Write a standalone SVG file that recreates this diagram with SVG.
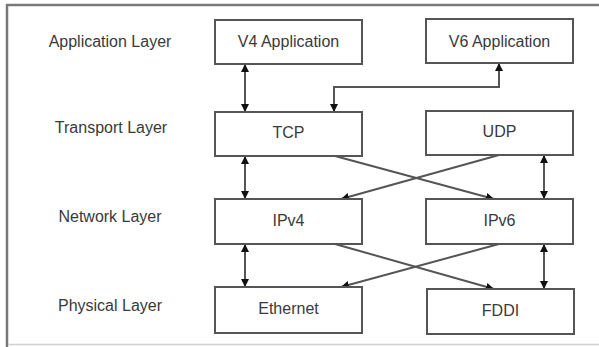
<svg xmlns="http://www.w3.org/2000/svg" width="599" height="347" viewBox="0 0 599 347">
<defs>
<marker id="ah" viewBox="0 0 10 10" refX="10" refY="5" markerWidth="8" markerHeight="8" markerUnits="userSpaceOnUse" orient="auto-start-reverse">
<path d="M0,0 L10,5 L0,10 z" fill="#111"/>
</marker>
<style>
.box{fill:#fff;stroke:#555;stroke-width:2}
.t{font-family:"Liberation Sans",Arial,sans-serif;font-size:16px;fill:#3a3a3a;text-anchor:middle}
.c{fill:none;stroke:#555;stroke-width:2}
</style>
</defs>
<rect x="0" y="0" width="599" height="347" fill="#fff"/>
<g id="frame">
<line x1="6" y1="5" x2="599" y2="5" stroke="#7a7a7a" stroke-width="2.5"/>
<line x1="7" y1="4" x2="7" y2="347" stroke="#7a7a7a" stroke-width="2.5"/>
<line x1="8" y1="344.5" x2="599" y2="344.5" stroke="#d0d0d0" stroke-width="1.5"/>
</g>
<g id="labels">
<text class="t" x="110" y="47">Application Layer</text>
<text class="t" x="111" y="133">Transport Layer</text>
<text class="t" x="110" y="222">Network Layer</text>
<text class="t" x="110" y="311">Physical Layer</text>
</g>
<g id="connectors">
<line class="c" x1="245" y1="64" x2="245" y2="112" marker-start="url(#ah)" marker-end="url(#ah)"/>
<line class="c" x1="245" y1="156" x2="245" y2="199" marker-start="url(#ah)" marker-end="url(#ah)"/>
<line class="c" x1="245" y1="244" x2="245" y2="287" marker-start="url(#ah)" marker-end="url(#ah)"/>
<line class="c" x1="544" y1="155" x2="544" y2="199" marker-start="url(#ah)" marker-end="url(#ah)"/>
<line class="c" x1="544" y1="244" x2="544" y2="289" marker-start="url(#ah)" marker-end="url(#ah)"/>
<path class="c" d="M499,63 V87 H334 V112" marker-start="url(#ah)" marker-end="url(#ah)"/>
<line class="c" x1="335" y1="156" x2="494" y2="199" marker-end="url(#ah)"/>
<line class="c" x1="499" y1="155" x2="341" y2="199" marker-end="url(#ah)"/>
<line class="c" x1="335" y1="244" x2="494" y2="289" marker-end="url(#ah)"/>
<line class="c" x1="499" y1="244" x2="341" y2="287" marker-end="url(#ah)"/>
</g>
<g id="v4app"><rect class="box" x="215" y="20" width="147" height="44"/><text class="t" x="288.5" y="47">V4 Application</text></g>
<g id="v6app"><rect class="box" x="426" y="19" width="147" height="44"/><text class="t" x="499.5" y="47">V6 Application</text></g>
<g id="tcp"><rect class="box" x="215" y="112" width="147" height="44"/><text class="t" x="288.5" y="138">TCP</text></g>
<g id="udp"><rect class="box" x="426" y="111" width="147" height="44"/><text class="t" x="499.5" y="137">UDP</text></g>
<g id="ipv4"><rect class="box" x="215" y="199" width="147" height="45"/><text class="t" x="288.5" y="226">IPv4</text></g>
<g id="ipv6"><rect class="box" x="426" y="199" width="147" height="45"/><text class="t" x="499.5" y="226">IPv6</text></g>
<g id="ethernet"><rect class="box" x="215" y="287" width="147" height="46"/><text class="t" x="288.5" y="314">Ethernet</text></g>
<g id="fddi"><rect class="box" x="427" y="289" width="147" height="45"/><text class="t" x="500.5" y="316">FDDI</text></g>
</svg>
